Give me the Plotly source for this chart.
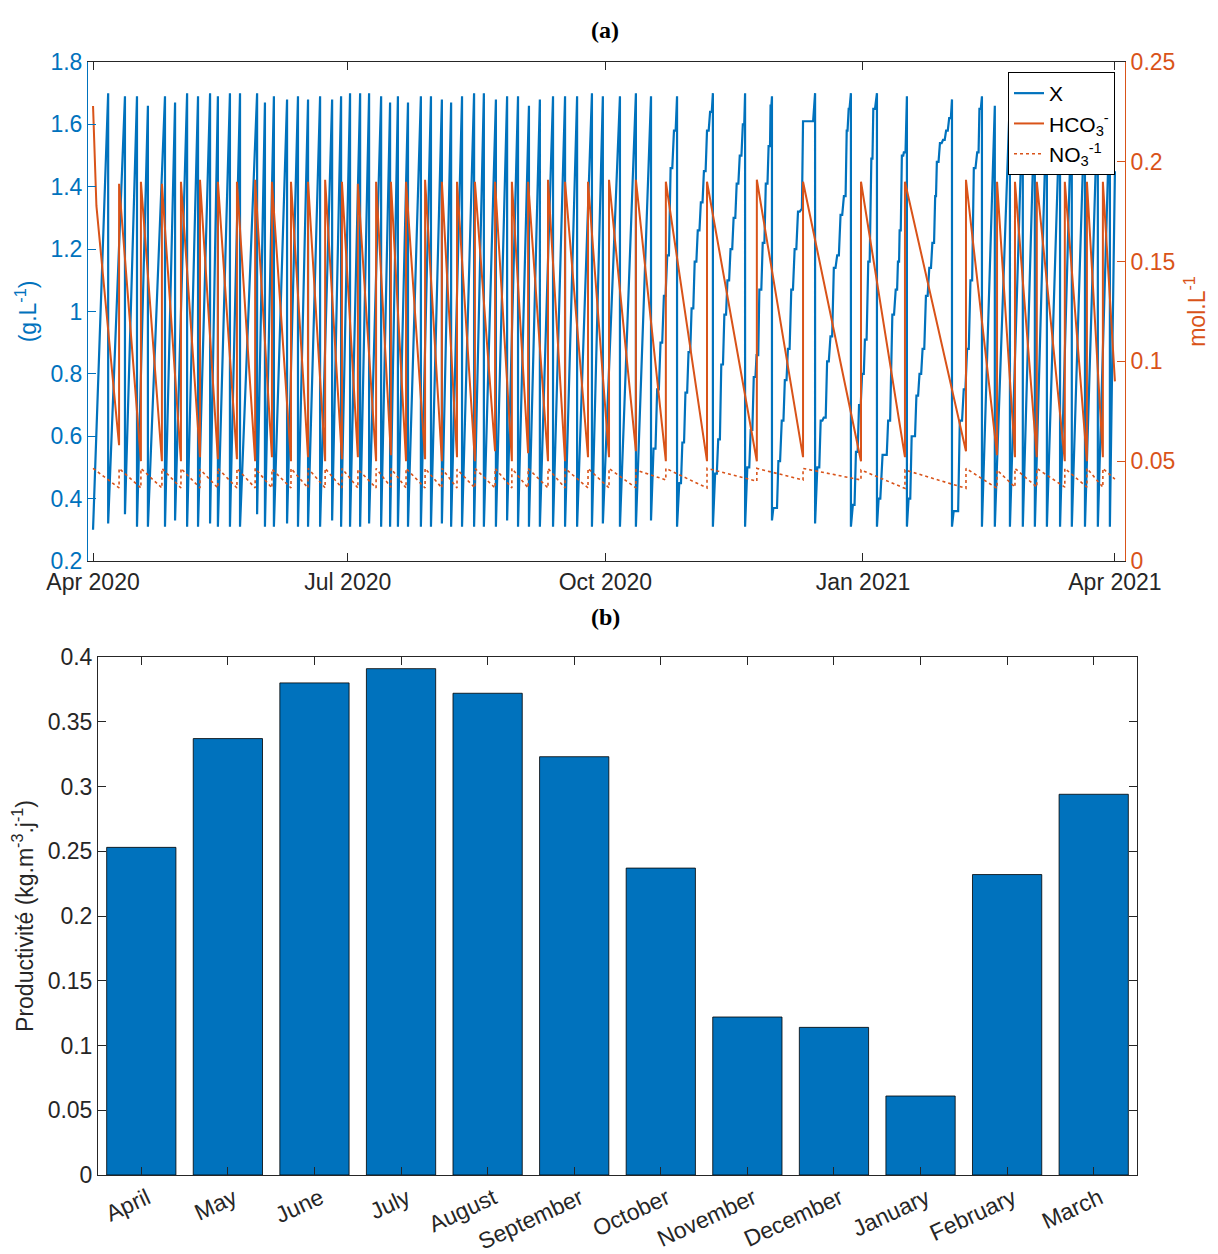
import datetime as dt
import plotly.graph_objects as go

ORIGIN = dt.datetime(2020, 4, 1)
BLUE = "#0072BD"
ORANGE = "#D95319"
DARK = "#262626"
PAGE_OFF = 8            # default body margin of the html page
W, H = 1218 - PAGE_OFF, 1254 - PAGE_OFF

# ---------------- Panel (a) data (days counted from 2020-04-01) ----------------
x_first = 0.30
x_last = 1.45
x_harvest_day = [5.4, 11.4, 15.7, 19.6, 25.7, 29.3, 33.6, 37.5, 41.8, 44.6,
                 48.9, 52.5, 58.6, 61.4, 64.6, 69.3, 73.2, 76.8, 81.1, 85.4,
                 88.6, 91.8, 95.4, 98.6, 102.9, 106.1, 108.9, 112.5, 117.1, 120.7,
                 124.6, 127.9, 131.8, 136.1, 139.6, 143.9, 147.9, 151.8, 155.7, 159.6,
                 164.3, 168.6, 172.9, 178.2, 182.1, 188.2, 193.9, 199.3, 208.6, 221.4,
                 232.9, 242.5, 257.9, 270.7, 280.0, 290.7, 306.8, 317.5, 322.1, 327.5,
                 332.1, 336.4, 340.7, 345.4, 349.6, 354.3, 358.9, 363.2]
x_peak = [1.70, 1.69, 1.69, 1.66, 1.69, 1.67, 1.70, 1.69, 1.70, 1.69,
          1.70, 1.70, 1.70, 1.67, 1.69, 1.68, 1.69, 1.68, 1.69, 1.68,
          1.69, 1.70, 1.70, 1.70, 1.69, 1.67, 1.69, 1.67, 1.69, 1.69,
          1.68, 1.67, 1.69, 1.70, 1.70, 1.68, 1.69, 1.69, 1.66, 1.68,
          1.69, 1.69, 1.69, 1.70, 1.69, 1.69, 1.70, 1.69, 1.69, 1.70,
          1.70, 1.69, 1.70, 1.70, 1.70, 1.69, 1.68, 1.69, 1.66, 1.69,
          1.68, 1.69, 1.69, 1.67, 1.68, 1.68, 1.69, 1.66]
x_trough = [0.32, 0.35, 0.31, 0.31, 0.31, 0.33, 0.31, 0.31, 0.32, 0.31,
            0.31, 0.31, 0.35, 0.31, 0.31, 0.32, 0.31, 0.31, 0.31, 0.33,
            0.31, 0.31, 0.31, 0.32, 0.31, 0.31, 0.31, 0.31, 0.31, 0.31,
            0.32, 0.31, 0.31, 0.31, 0.31, 0.31, 0.33, 0.31, 0.31, 0.31,
            0.31, 0.31, 0.31, 0.31, 0.32, 0.31, 0.31, 0.33, 0.31, 0.31,
            0.31, 0.33, 0.32, 0.31, 0.31, 0.31, 0.31, 0.31, 0.31, 0.31,
            0.31, 0.31, 0.31, 0.31, 0.31, 0.31, 0.31, 0.31]
# single extra vertices (plateau before the December harvest)
x_extra_day = [253.2, 253.6, 257.2]
x_extra_val = [1.33, 1.61, 1.61]
# night plateaus of the long autumn/winter growth cycles (start day, end day, level)
x_step_start = [200.2, 201.5, 202.7, 203.9, 205.1, 206.3, 207.5,
                209.4, 210.5, 211.6, 212.7, 213.8, 214.9, 216.0, 217.1, 218.2, 219.3, 220.4,
                222.2, 223.3, 224.4, 225.5, 226.6, 227.7, 228.8, 229.9, 231.0, 232.1,
                233.7, 234.9, 236.0, 237.0, 238.0, 239.2, 240.3, 241.3, 242.0,
                243.0, 244.8, 246.0, 247.1, 248.2, 249.4, 250.6, 251.8,
                258.7, 259.9, 261.0, 262.2, 263.4, 264.6, 265.8, 267.0, 268.2, 269.2, 269.9,
                271.4, 272.5, 273.6, 274.7, 275.7, 276.9, 278.0, 278.7,
                280.6, 282.0, 284.0, 285.5, 286.7, 287.5, 288.1, 288.9, 289.6,
                291.3, 292.4, 294.1, 295.2, 296.3, 297.5, 298.7, 299.8, 300.8, 301.4, 302.5,
                303.6, 304.7, 305.8,
                307.4, 309.6, 311.0, 312.2, 313.4, 314.6, 315.8, 316.6]
x_step_end = [200.9, 202.1, 203.3, 204.5, 205.7, 206.9, 208.1,
              210.0, 211.1, 212.2, 213.3, 214.4, 215.5, 216.6, 217.7, 218.8, 219.9, 221.0,
              222.8, 223.9, 225.0, 226.1, 227.2, 228.3, 229.4, 230.5, 231.6, 232.6,
              234.4, 235.5, 236.6, 237.6, 238.7, 239.8, 240.9, 241.8, 242.3,
              244.3, 245.4, 246.6, 247.7, 248.8, 250.0, 251.2, 252.4,
              259.4, 260.5, 261.7, 262.8, 264.0, 265.2, 266.4, 267.6, 268.8, 269.5, 270.2,
              272.0, 273.1, 274.2, 275.3, 276.3, 277.4, 278.4, 279.3,
              281.2, 283.5, 284.7, 286.1, 287.2, 287.9, 288.5, 289.4, 290.2,
              291.9, 293.6, 294.7, 295.8, 296.9, 298.1, 299.3, 300.4, 301.1, 302.0, 303.1,
              304.2, 305.3, 306.4,
              309.0, 310.4, 311.6, 312.8, 314.0, 315.2, 316.3, 317.1]
x_step_level = [0.56, 0.75, 0.90, 1.05, 1.18, 1.46, 1.58,
                0.45, 0.58, 0.74, 0.87, 1.01, 1.16, 1.26, 1.35, 1.45, 1.58, 1.64,
                0.48, 0.59, 0.83, 0.99, 1.10, 1.20, 1.30, 1.41, 1.50, 1.60,
                0.50, 0.62, 0.79, 0.86, 1.07, 1.22, 1.41, 1.53, 1.66,
                0.37, 0.52, 0.65, 0.78, 0.88, 1.07, 1.20, 1.32,
                0.50, 0.65, 0.66, 0.84, 0.92, 1.14, 1.18, 1.31, 1.37, 1.58, 1.65,
                0.38, 0.55, 0.70, 0.80, 0.91, 1.16, 1.49, 1.65,
                0.40, 0.54, 0.65, 0.99, 1.07, 1.16, 1.26, 1.50, 1.51,
                0.40, 0.60, 0.73, 0.80, 0.88, 1.05, 1.14, 1.22, 1.37, 1.48, 1.54,
                1.55, 1.58, 1.62,
                0.36, 0.65, 0.75, 0.88, 1.10, 1.46, 1.51, 1.65]

refill_day = [9.3, 17.1, 24.6, 31.4, 38.2, 44.6, 51.4, 57.9, 63.9, 70.7,
              76.8, 82.9, 88.9, 94.6, 101.1, 106.4, 111.8, 118.6, 124.6, 130.0,
              136.4, 143.6, 149.6, 155.4, 162.5, 168.6, 176.8, 184.3, 193.9, 204.6,
              219.3, 237.1, 253.6, 274.3, 290.0, 311.8, 322.9, 329.3, 337.1, 347.1,
              355.0, 360.7]
hco3_first = 0.228
hco3_last = 0.09
hco3_low = [0.058, 0.050, 0.050, 0.050, 0.052, 0.051, 0.051, 0.050, 0.052, 0.050,
            0.052, 0.050, 0.051, 0.052, 0.050, 0.053, 0.050, 0.051, 0.050, 0.052,
            0.050, 0.055, 0.050, 0.054, 0.050, 0.050, 0.052, 0.052, 0.055, 0.050,
            0.050, 0.050, 0.052, 0.050, 0.052, 0.055, 0.053, 0.052, 0.052, 0.050,
            0.050, 0.052]
hco3_high = [0.189, 0.190, 0.189, 0.190, 0.191, 0.190, 0.190, 0.191, 0.190, 0.190,
             0.190, 0.191, 0.190, 0.189, 0.190, 0.190, 0.190, 0.191, 0.190, 0.190,
             0.190, 0.190, 0.190, 0.190, 0.191, 0.190, 0.190, 0.191, 0.191, 0.190,
             0.190, 0.191, 0.190, 0.190, 0.190, 0.191, 0.190, 0.190, 0.190, 0.190,
             0.190, 0.190]
hco3_extra_day = [1.2]
hco3_extra_val = [0.178]

no3_first = 0.0464
no3_last = 0.041
no3_low = [0.0366, 0.0366, 0.0366, 0.0366, 0.0366, 0.0366, 0.0366, 0.0366, 0.0366, 0.0366,
           0.0366, 0.0366, 0.0366, 0.0366, 0.0366, 0.0370, 0.0366, 0.0366, 0.0366, 0.0366,
           0.0366, 0.0366, 0.0366, 0.0366, 0.0366, 0.0366, 0.0366, 0.0366, 0.0366, 0.0406,
           0.0366, 0.0400, 0.0406, 0.0406, 0.0364, 0.0364, 0.0364, 0.0370, 0.0370, 0.0370,
           0.0370, 0.0370]
no3_high = [0.0464, 0.0464, 0.0464, 0.0464, 0.0460, 0.0464, 0.0464, 0.0464, 0.0460, 0.0464,
            0.0464, 0.0464, 0.0464, 0.0460, 0.0464, 0.0464, 0.0464, 0.0464, 0.0464, 0.0460,
            0.0464, 0.0464, 0.0464, 0.0464, 0.0464, 0.0464, 0.0464, 0.0464, 0.0456, 0.0464,
            0.0464, 0.0464, 0.0464, 0.0456, 0.0456, 0.0464, 0.0456, 0.0464, 0.0464, 0.0464,
            0.0464, 0.0464]

date_tick_days = [0, 91, 183, 275, 365]
date_tick_text = ["Apr 2020", "Jul 2020", "Oct 2020", "Jan 2021", "Apr 2021"]

# ---------------- Panel (b) data ----------------
months = ["April", "May", "June", "July", "August", "September", "October",
          "November", "December", "January", "February", "March"]
productivity = [0.253, 0.337, 0.380, 0.391, 0.372, 0.323, 0.237, 0.122, 0.114, 0.061, 0.232, 0.294]


def to_date(d):
    return ORIGIN + dt.timedelta(days=d)


def build(first, last, ev_days, before, after, ex_days, ex_vals):
    pts = [(0.0, 0, first)]
    for d, b, a in zip(ev_days, before, after):
        pts.append((d, 0, b))
        pts.append((d, 1, a))
    for d, v in zip(ex_days, ex_vals):
        pts.append((d, 0, v))
    pts.append((365.0, 0, last))
    pts.sort(key=lambda p: (p[0], p[1]))
    return [to_date(p[0]) for p in pts], [p[2] for p in pts]


x_ex_d = list(x_extra_day)
x_ex_v = list(x_extra_val)
for s, e, lv in zip(x_step_start, x_step_end, x_step_level):
    x_ex_d += [s, e]
    x_ex_v += [lv, lv]

xt, xv = build(x_first, x_last, x_harvest_day, x_peak, x_trough, x_ex_d, x_ex_v)
ht, hv = build(hco3_first, hco3_last, refill_day, hco3_low, hco3_high, hco3_extra_day, hco3_extra_val)
nt, nv = build(no3_first, no3_last, refill_day, no3_low, no3_high, [], [])

fig = go.Figure()
fig.add_trace(go.Scatter(x=xt, y=xv, mode="lines", name="X",
                         line=dict(color=BLUE, width=2.2), xaxis="x", yaxis="y"))
fig.add_trace(go.Scatter(x=ht, y=hv, mode="lines", name="HCO<sub>3</sub><sup>-</sup>",
                         line=dict(color=ORANGE, width=2), xaxis="x", yaxis="y2"))
fig.add_trace(go.Scatter(x=nt, y=nv, mode="lines", name="NO<sub>3</sub><sup>-1</sup>",
                         line=dict(color=ORANGE, width=1.6, dash="dot"), xaxis="x", yaxis="y2"))
fig.add_trace(go.Bar(x=months, y=productivity, xaxis="x2", yaxis="y3", width=0.8,
                     marker=dict(color=BLUE, line=dict(color="#000000", width=0.8)),
                     showlegend=False))

FONT = "Liberation Sans, Arial, sans-serif"
FS = 23


def px_x(p):
    return (p - PAGE_OFF) / W


def px_y(p):
    return 1 - (p - PAGE_OFF) / H


fig.update_layout(
    width=W, height=H,
    margin=dict(l=0, r=0, t=0, b=0, autoexpand=False),
    paper_bgcolor="white", plot_bgcolor="white",
    font=dict(family=FONT, size=FS, color=DARK),
    showlegend=True,
    legend=dict(x=px_x(1115), y=px_y(72), xanchor="right", yanchor="top",
                bgcolor="white", bordercolor="#000000", borderwidth=1,
                font=dict(size=21, color="#000000"), itemwidth=30, tracegroupgap=0),
    xaxis=dict(domain=[px_x(88), px_x(1125)], anchor="y", type="date", automargin=False,
               range=[to_date(-1.8), to_date(368.6)],
               tickvals=[to_date(d) for d in date_tick_days], ticktext=date_tick_text,
               ticks="inside", ticklen=8, tickcolor=DARK, showline=True, linecolor=DARK,
               linewidth=1, mirror="ticks", showgrid=False, zeroline=False,
               tickfont=dict(size=FS, color=DARK)),
    yaxis=dict(domain=[px_y(561), px_y(62)], anchor="x", range=[0.2, 1.8], dtick=0.2,
               automargin=False,
               ticks="inside", ticklen=8, tickcolor=BLUE, showline=True, linecolor=BLUE,
               linewidth=1, showgrid=False, zeroline=False,
               tickfont=dict(size=FS, color=BLUE),
               title=dict(text="(g.L<sup>-1</sup>)", font=dict(size=FS, color=BLUE), standoff=7)),
    yaxis2=dict(overlaying="y", side="right", anchor="x", range=[0, 0.25], dtick=0.05,
                automargin=False,
                ticks="inside", ticklen=8, tickcolor=ORANGE, showline=True, linecolor=ORANGE,
                linewidth=1, showgrid=False, zeroline=False,
                tickfont=dict(size=FS, color=ORANGE),
                title=dict(text="mol.L<sup>-1</sup>", font=dict(size=FS, color=ORANGE), standoff=14)),
    xaxis2=dict(domain=[px_x(98), px_x(1137)], anchor="y3", type="category", automargin=False,
                range=[-0.5, 11.5], ticks="inside", ticklen=8, tickcolor=DARK,
                showline=True, linecolor=DARK, linewidth=1, mirror="ticks",
                showgrid=False, zeroline=False, tickangle=-25, ticklabelshift=6,
                tickfont=dict(size=FS, color=DARK)),
    yaxis3=dict(domain=[px_y(1175), px_y(657)], anchor="x2", range=[0, 0.4], dtick=0.05,
                automargin=False,
                ticks="inside", ticklen=8, tickcolor=DARK, showline=True, linecolor=DARK,
                linewidth=1, mirror="ticks", showgrid=False, zeroline=False,
                tickfont=dict(size=FS, color=DARK),
                title=dict(text="Productivité (kg.m<sup>-3</sup>.j<sup>-1</sup>)",
                           font=dict(size=FS, color=DARK), standoff=7)),
    annotations=[
        dict(text="<b>(a)</b>", x=px_x(605), y=px_y(30), xref="paper", yref="paper",
             xanchor="center", yanchor="middle", showarrow=False,
             font=dict(family="Liberation Serif, Times New Roman, serif", size=24, color="#000000")),
        dict(text="<b>(b)</b>", x=px_x(605), y=px_y(617), xref="paper", yref="paper",
             xanchor="center", yanchor="middle", showarrow=False,
             font=dict(family="Liberation Serif, Times New Roman, serif", size=24, color="#000000")),
    ],
)

fig.write_html("out.html")
